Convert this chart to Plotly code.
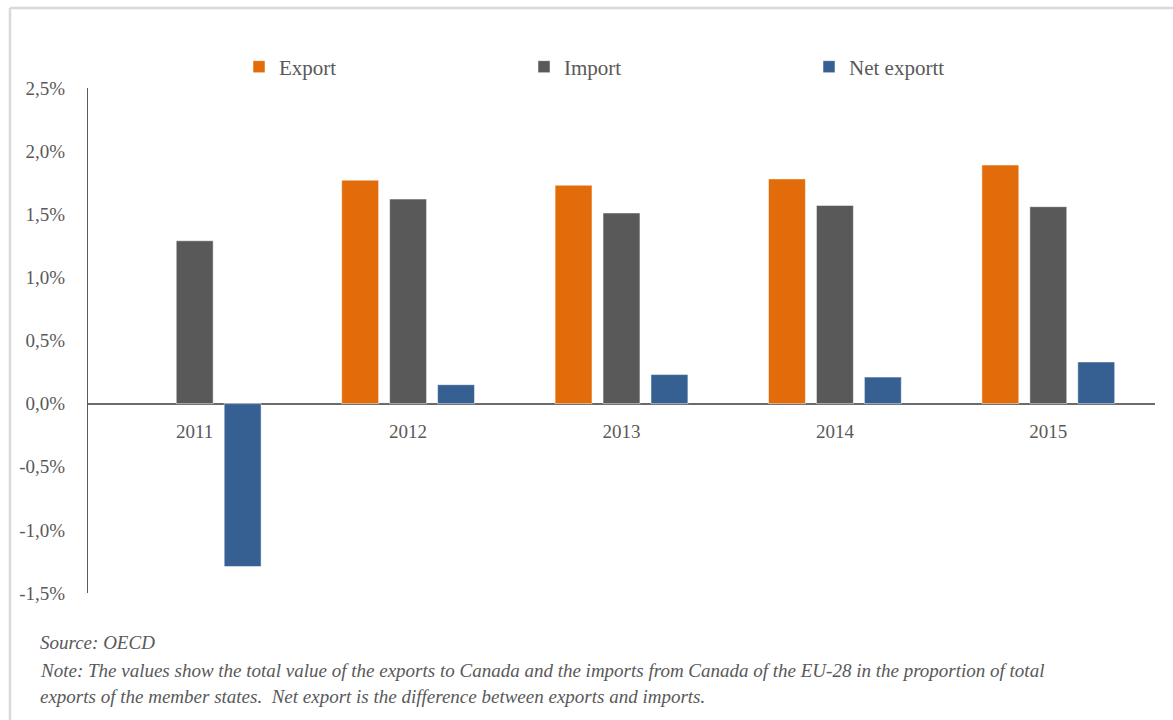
import plotly.graph_objects as go

years = ["2011", "2012", "2013", "2014", "2015"]
export_vals = [None, 1.77, 1.73, 1.78, 1.89]
import_vals = [1.29, 1.62, 1.51, 1.57, 1.56]
net_vals = [-1.29, 0.15, 0.23, 0.21, 0.33]
y_ticks = [-1.5, -1.0, -0.5, 0.0, 0.5, 1.0, 1.5, 2.0, 2.5]
y_ticktext = ["-1,5%", "-1,0%", "-0,5%", "0,0%", "0,5%", "1,0%", "1,5%", "2,0%", "2,5%"]

FONT = "Liberation Serif"
TXT = "#595959"

fig = go.Figure()
fig.add_trace(go.Bar(name="Export", x=years, y=export_vals, marker_color="#E36C0A",
                     marker_line=dict(width=1, color="rgba(255,255,255,0.5)")))
fig.add_trace(go.Bar(name="Import", x=years, y=import_vals, marker_color="#595959",
                     marker_line=dict(width=1, color="rgba(255,255,255,0.5)")))
fig.add_trace(go.Bar(name="Net exportt", x=years, y=net_vals, marker_color="#366092",
                     marker_line=dict(width=1, color="rgba(255,255,255,0.5)")))

W, H = 1173, 720
L, R, T, B = 88, 18, 88, 127
pw, ph = W - L - R, H - T - B

def px(x):
    return (x - L) / pw

def py(y):
    return (H - B - y) / ph

fig.update_layout(
    width=W, height=H,
    margin=dict(l=L, r=R, t=T, b=B),
    paper_bgcolor="white", plot_bgcolor="white",
    font=dict(family=FONT, color=TXT, size=19),
    barmode="group", bargap=0.326, bargroupgap=0.23,
    showlegend=True,
    legend=dict(orientation="h", x=px(239), y=py(67), xanchor="left", yanchor="middle",
                entrywidth=240, entrywidthmode="pixels",
                font=dict(family=FONT, size=21, color=TXT),
                bgcolor="rgba(0,0,0,0)"),
    xaxis=dict(anchor="free", position=py(403.5), showline=False, showgrid=False,
               ticks="", ticklabelstandoff=14, tickfont=dict(size=19, color=TXT),
               fixedrange=True),
    yaxis=dict(range=[-1.5, 2.5], tickvals=y_ticks, ticktext=y_ticktext,
               showgrid=False, zeroline=True, zerolinecolor="#6b6b6b", zerolinewidth=2,
               showline=True, linecolor="#595959", linewidth=1.3,
               ticks="", ticklabelstandoff=18, tickfont=dict(size=19, color=TXT)),
)

# outer frame
fig.add_shape(type="line", xref="paper", yref="paper", x0=px(10), x1=px(1180),
              y0=py(8), y1=py(8), line=dict(color="#d9d9d9", width=2.5))
fig.add_shape(type="line", xref="paper", yref="paper", x0=px(10), x1=px(10),
              y0=py(8), y1=py(730), line=dict(color="#d9d9d9", width=2.5))

notes = [
    ("Source: OECD", 642),
    ("Note: The values show the total value of the exports to Canada and the imports from Canada of the EU-28 in the proportion of total", 670),
    ("exports of the member states.  Net export is the difference between exports and imports.", 696),
]
for text, yy in notes:
    fig.add_annotation(text="<i>" + text + "</i>", xref="paper", yref="paper",
                       x=px(38), y=py(yy), xanchor="left", yanchor="middle",
                       showarrow=False, font=dict(family=FONT, size=19, color=TXT))

fig.write_html("out.html")
